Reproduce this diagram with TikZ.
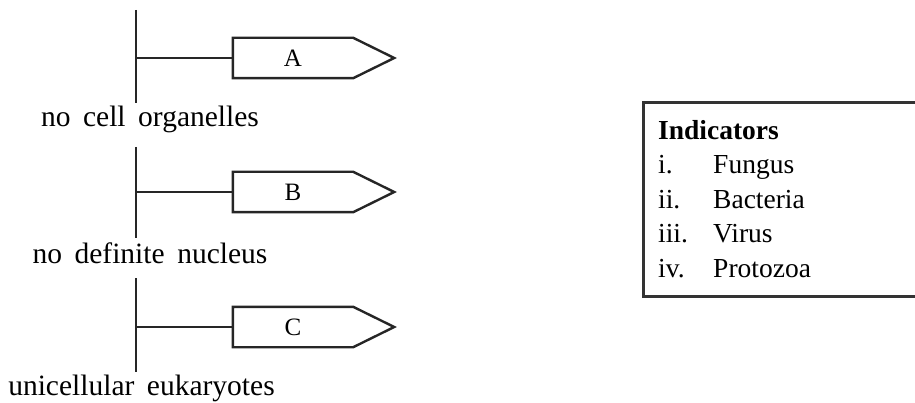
\documentclass[tikz,border=0pt]{standalone}
\usepackage{fontspec}
\setmainfont{Liberation Serif}
\usetikzlibrary{calc}
\newcommand{\widespace}{\spaceskip=12.5pt plus 0pt minus 0pt\relax}
\tikzset{
  ln/.style={line width=2.4pt, draw=black!85},
  lbl/.style={anchor=base, inner sep=0pt, font=\fontsize{29.5}{33}\selectfont},
  tag/.style={minimum width=120pt, minimum height=40pt, inner sep=0pt, font=\fontsize{25}{28}\selectfont},
  item/.style={anchor=base west, inner sep=0pt, font=\fontsize{27.5}{32}\selectfont},
}
\newcommand{\tagshape}[1]{\draw[ln, line join=miter] (#1.north west) -- (#1.north east) -- ($(#1.east)+(41pt,0)$) -- (#1.south east) -- (#1.south west) -- cycle;}
\begin{document}
\begin{tikzpicture}[x=1pt,y=-1pt]
\useasboundingbox (0,0) rectangle (915,403);
% first stage
\coordinate (t1) at (136,10);
\coordinate (b1) at (136,103);
\coordinate (j1) at (136,58);
\draw[ln] (t1) -- (b1);
\node[tag] (A) at (293,58) {A};
\tagshape{A}
\draw[ln] (j1) -- (A.west);
\node[lbl] (L1) at (150,127) {\widespace no cell organelles};
% second stage
\coordinate (t2) at (136,147);
\coordinate (b2) at (136,238);
\coordinate (j2) at (136,192);
\draw[ln] (t2) -- (b2);
\node[tag] (B) at (293,192) {B};
\tagshape{B}
\draw[ln] (j2) -- (B.west);
\node[lbl] (L2) at (150,264) {\widespace no definite nucleus};
% third stage
\coordinate (t3) at (136,278);
\coordinate (b3) at (136,372);
\coordinate (j3) at (136,327);
\draw[ln] (t3) -- (b3);
\node[tag] (C) at (293,327) {C};
\tagshape{C}
\draw[ln] (j3) -- (C.west);
\node[lbl] (L3) at (141.5,395) {\widespace unicellular eukaryotes};
% indicators box
\draw[line width=3pt, draw=black!80] (643,102.5) rectangle (935,296);
\node[item, font=\fontsize{27.5}{32}\selectfont\bfseries] (ind) at (658,140) {Indicators};
\node[item] (n1) at (658,174) {i.};
\node[item] (f1) at (713,174) {Fungus};
\node[item] (n2) at (658,209) {ii.};
\node[item] (f2) at (713,209) {Bacteria};
\node[item] (n3) at (658,243) {iii.};
\node[item] (f3) at (713,243) {Virus};
\node[item] (n4) at (658,277) {iv.};
\node[item] (f4) at (713,277) {Protozoa};
\end{tikzpicture}
\end{document}
